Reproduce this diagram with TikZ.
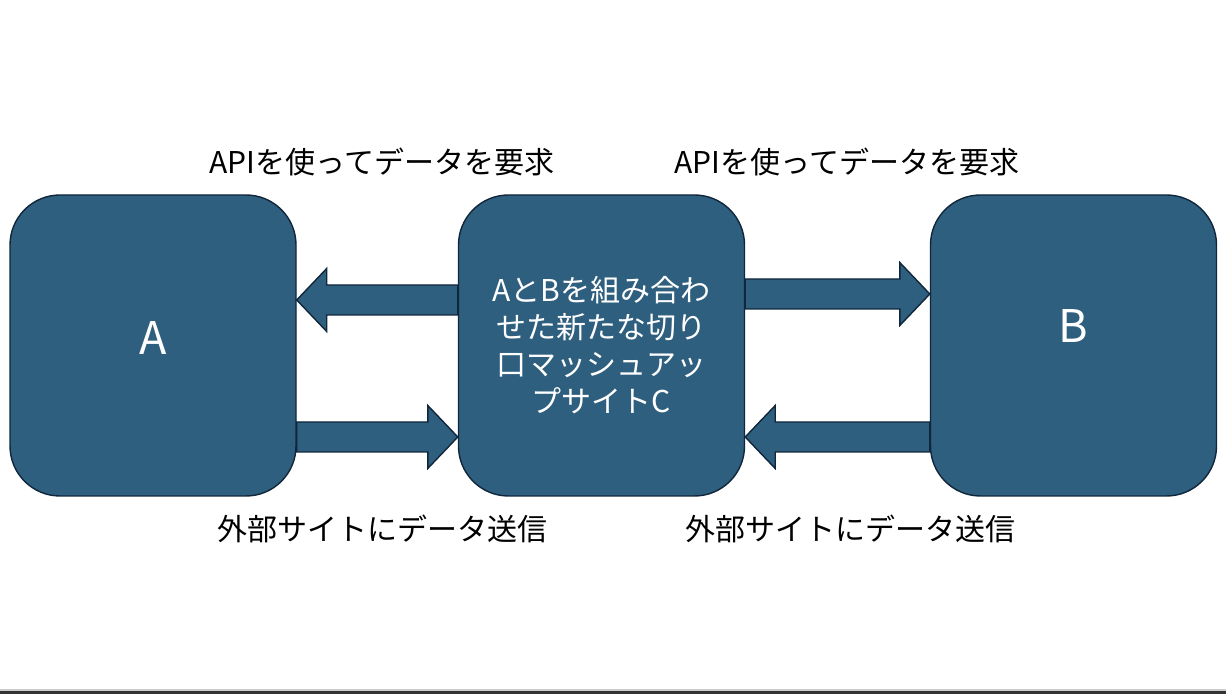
\documentclass[tikz,border=0pt]{standalone}
\usepackage{fontspec}
\setmainfont{Noto Sans CJK JP}
\usetikzlibrary{calc}
\definecolor{siteblue}{HTML}{2F5F7F}
\definecolor{siteedge}{HTML}{10263A}
\tikzset{
  sitebox/.style={draw=siteedge, fill=siteblue, line width=0.7pt, rounded corners=25pt,
                  minimum width=143pt, minimum height=150.5pt, inner sep=0pt, text=white},
  fatarr/.style={draw=siteedge, fill=siteblue, line width=0.7pt, line join=miter},
  lab/.style={font=\fontsize{15}{18}\selectfont, align=center},
}
% block arrow: tail, tip, direction (1 = right, -1 = left)
\newcommand{\fatarrow}[3]{%
  \draw[fatarr] let \p1=(#1), \p2=(#2) in
    (\x1,{\y2+7.5pt}) -- ({\x2-(#3)*15pt},{\y2+7.5pt}) -- ({\x2-(#3)*15pt},{\y2+15.75pt})
    -- (\x2,\y2) -- ({\x2-(#3)*15pt},{\y2-15.75pt}) -- ({\x2-(#3)*15pt},{\y2-7.5pt})
    -- (\x1,{\y2-7.5pt}) -- cycle;}
\begin{document}
\begin{tikzpicture}[x=0.5pt, y=-0.5pt]
    \useasboundingbox (0,0) rectangle (1226,694);
    \fill[gray!40] (0,689) rectangle (1226,691);
    \fill[black!80] (0,691) rectangle (1226,694);

    \node[sitebox, font=\fontsize{22.5}{26}\selectfont] (A) at (153,345.5) {\raisebox{7pt}{A}};
    \node[sitebox, align=center, font=\fontsize{15}{18.5}\selectfont] (C) at (601.5,345.5)
      {AとBを組み合わ\\せた新たな切り\\口マッシュアッ\\プサイトC};
    \node[sitebox, font=\fontsize{22.5}{26}\selectfont] (B) at (1073.5,345.5) {\raisebox{19pt}{B}};

    \coordinate (caTail) at ($(C.west)+(0,-45.5)$);
    \coordinate (caTip) at ($(A.east)+(0,-45.5)$);
    \coordinate (acTail) at ($(A.east)+(0,91.5)$);
    \coordinate (acTip) at ($(C.west)+(0,91.5)$);
    \coordinate (cbTail) at ($(C.east)+(0,-51.5)$);
    \coordinate (cbTip) at ($(B.west)+(0,-51.5)$);
    \coordinate (bcTail) at ($(B.west)+(0,91.5)$);
    \coordinate (bcTip) at ($(C.east)+(0,91.5)$);
    \fatarrow{caTail}{caTip}{-1}
    \fatarrow{acTail}{acTip}{1}
    \fatarrow{cbTail}{cbTip}{1}
    \fatarrow{bcTail}{bcTip}{-1}

    \node[lab] (reqA) at (382,162) {APIを使ってデータを要求};
    \node[lab] (reqB) at (847,162) {APIを使ってデータを要求};
    \node[lab] (sendA) at (382,529) {外部サイトにデータ送信};
    \node[lab] (sendB) at (850,529) {外部サイトにデータ送信};
\end{tikzpicture}
\end{document}
